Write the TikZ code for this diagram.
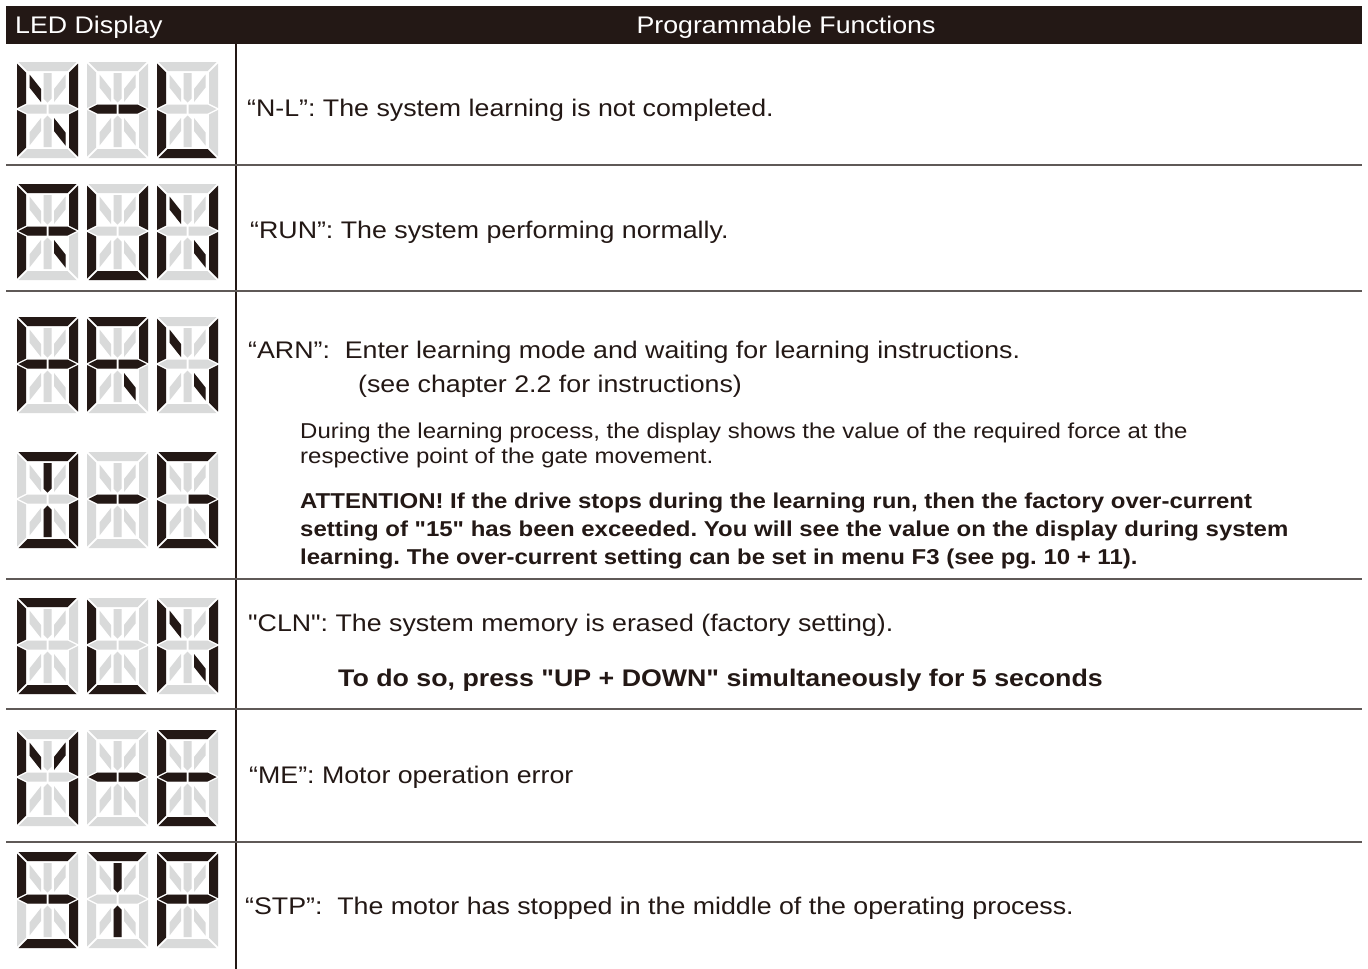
\documentclass[tikz,border=0pt]{standalone}
\usepackage{fontspec}
\setmainfont{Liberation Sans}[FakeStretch=1.115,Ligatures=TeXOff]
\frenchspacing
\definecolor{ink}{RGB}{35,24,21}
\definecolor{segoff}{RGB}{217,218,218}
\definecolor{rulegray}{RGB}{95,89,87}

% 14-segment cell: 61 x 96 units, origin at the top left corner
\def\lcda{(1.5,0) -- (59.5,0) -- (50.5,9) -- (10.5,9) -- cycle}
\def\lcdd{(1.5,96) -- (59.5,96) -- (50.5,87) -- (10.5,87) -- cycle}
\def\lcdf{(0,1.5) -- (9,10.5) -- (9,41.5) -- (0,46) -- cycle}
\def\lcde{(0,48) -- (9,52.5) -- (9,85.5) -- (0,94.5) -- cycle}
\def\lcdb{(61,1.5) -- (52,10.5) -- (52,41.5) -- (61,46) -- cycle}
\def\lcdc{(61,48) -- (52,52.5) -- (52,85.5) -- (61,94.5) -- cycle}
\def\lcdg{(1.5,47) -- (10.5,42.5) -- (29.5,42.5) -- (29.5,51.5) -- (10.5,51.5) -- cycle}
\def\lcdG{(59.5,47) -- (50.5,42.5) -- (31.5,42.5) -- (31.5,51.5) -- (50.5,51.5) -- cycle}
\def\lcdi{(26.5,11) -- (34.5,11) -- (34.5,36.5) -- (30.5,40.5) -- (26.5,36.5) -- cycle}
\def\lcdl{(26.5,85) -- (34.5,85) -- (34.5,57.5) -- (30.5,53.5) -- (26.5,57.5) -- cycle}
\def\lcdh{(12.5,12.5) -- (24,27) -- (24,40) -- (12.5,25.5) -- cycle}
\def\lcdj{(48.5,12.5) -- (37,27) -- (37,40) -- (48.5,25.5) -- cycle}
\def\lcdk{(12.5,83.5) -- (24,69) -- (24,56) -- (12.5,70.5) -- cycle}
\def\lcdm{(48.5,83.5) -- (37,69) -- (37,56) -- (48.5,70.5) -- cycle}

\newcommand\LCDcell[3]{%
  \begin{scope}[shift={(#1,#2)}]
    \foreach \s in {a,b,c,d,e,f,g,G,h,i,j,k,l,m}
      {\fill[segoff] \csname lcd\s\endcsname;}
    \foreach \s in {#3}
      {\fill[ink] \csname lcd\s\endcsname;}
  \end{scope}}

\newcommand\LCDrow[4]{%
  \LCDcell{17}{#1}{#2}\LCDcell{87}{#1}{#3}\LCDcell{157}{#1}{#4}}

\begin{document}
\begin{tikzpicture}[x=1pt,y=-1pt,
  body/.style={anchor=base west,inner sep=0pt,text=ink,font=\fontsize{24}{28}\selectfont},
  small/.style={anchor=base west,inner sep=0pt,text=ink,font=\fontsize{21.5}{25}\selectfont},
  smallbold/.style={small,font=\fontsize{21.5}{25}\selectfont\bfseries},
  head/.style={inner sep=0pt,text=white,font=\fontsize{24}{28}\selectfont},
  rowrule/.style={draw=rulegray,line width=1.8pt}]
\useasboundingbox (0,0) rectangle (1368,969);
\fill[white] (0,0) rectangle (1368,969);

% header bar
\fill[ink] (6,6) rectangle (1362,44);
\node[head,anchor=base west] (hled) at (15,33) {LED Display};
\node[head,anchor=base] (hfun) at (786,33) {Programmable Functions};

% table rules
\draw[ink,line width=1.2pt] (236,44) -- (236,969);
\foreach \yy in {165,291,579,709,842}
  \draw[rowrule] (6,\yy) -- (1362,\yy);

% displays
\LCDrow{62}{f,e,b,c,h,m}{g,G}{f,e,d}
\LCDrow{184}{a,b,f,e,g,G,m}{f,e,b,c,d}{f,e,b,c,h,m}
\LCDrow{317}{a,b,c,e,f,g,G}{a,b,f,e,g,G,m}{f,e,b,c,h,m}
\LCDrow{452}{a,b,c,d,i,l}{g,G}{a,f,e,d,G,c}
\LCDrow{598}{a,f,e,d}{f,e,d}{f,e,b,c,h,m}
\LCDrow{730}{f,e,b,c,h,j}{g,G}{a,f,e,d,g,G}
\LCDrow{852}{a,f,g,G,c,d}{a,i,l}{a,b,f,e,g,G}

% descriptions
\node[body] (tnl) at (247,116) {“N-L”: The system learning is not completed.};
\node[body] (trun) at (250,238) {“RUN”: The system performing normally.};
\node[body] (tarn) at (248,358) {“ARN”:\ \ Enter learning mode and waiting for learning instructions.};
\node[body] (tarn2) at (358,392) {(see chapter 2.2 for instructions)};
\node[small] (tdur1) at (300,438) {During the learning process, the display shows the value of the required force at the};
\node[small] (tdur2) at (300,463) {respective point of the gate movement.};
\node[smallbold] (tatt1) at (300,508) {ATTENTION! If the drive stops during the learning run, then the factory over-current};
\node[smallbold] (tatt2) at (300,536) {setting of "15" has been exceeded. You will see the value on the display during system};
\node[smallbold] (tatt3) at (300,564) {learning. The over-current setting can be set in menu F3 (see pg. 10 + 11).};
\node[body] (tcln) at (248,631) {"CLN": The system memory is erased (factory setting).};
\node[body,font=\fontsize{24}{28}\selectfont\bfseries] (tcln2) at (338,686) {To do so, press "UP + DOWN" simultaneously for 5 seconds};
\node[body] (tme) at (249,783) {“ME”: Motor operation error};
\node[body] (tstp) at (245,914) {“STP”:\ \ The motor has stopped in the middle of the operating process.};
\end{tikzpicture}
\end{document}
